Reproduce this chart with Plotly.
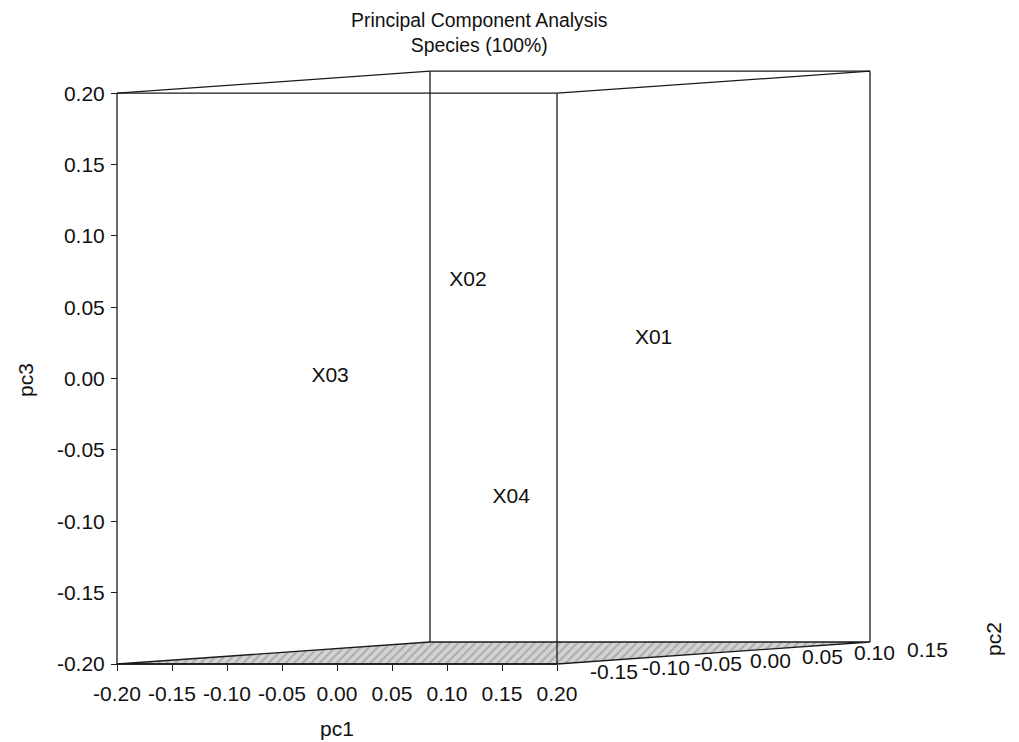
import plotly.graph_objects as go

# ---------------- data ----------------
species = ["X01", "X02", "X03", "X04"]
pc1 = [0.193, -0.118, -0.196, 0.111]
pc2 = [-0.05, 0.10, 0.05, -0.10]
pc3 = [0.023, 0.056, -0.009, -0.086]

pc1_ticks = [-0.20, -0.15, -0.10, -0.05, 0.00, 0.05, 0.10, 0.15, 0.20]
pc2_ticks = [-0.15, -0.10, -0.05, 0.00, 0.05, 0.10, 0.15]
pc3_ticks = [-0.20, -0.15, -0.10, -0.05, 0.00, 0.05, 0.10, 0.15, 0.20]

title_text = "Principal Component Analysis<br>Species (100%)"

# ---------------- box limits / projection ----------------
X_LIM = (-0.20, 0.20)   # pc1
Y_LIM = (-0.15, 0.15)   # pc2 (depth)
Z_LIM = (-0.20, 0.20)   # pc3

W_FIG, H_FIG = 1019, 742
OFF = 8                 # page body margin in the browser
PX_X = 1100.0           # px per pc1 unit on the front face
PX_Z = 1427.0           # px per pc3 unit on the front face
ORIG_PX = (117 - OFF, 664 - OFF)    # pixel of (pc1 min, pc3 min) on front face
DEPTH_DX, DEPTH_DY = 313.0, 22.0    # pixel shift for the full pc2 range

ML, MR, MT, MB = ORIG_PX[0] - 10, 140, 61 - OFF, H_FIG - (ORIG_PX[1] + 10)
PW = W_FIG - ML - MR
PH = H_FIG - MT - MB

x_lo = X_LIM[0] - (ORIG_PX[0] - ML) / PX_X
x_hi = x_lo + PW / PX_X
y_lo = Z_LIM[0] - ((H_FIG - MB) - ORIG_PX[1]) / PX_Z
y_hi = y_lo + PH / PX_Z


def proj(a, b, c):
    u = (b - Y_LIM[0]) / (Y_LIM[1] - Y_LIM[0])
    return a + u * DEPTH_DX / PX_X, c + u * DEPTH_DY / PX_Z


def paper(px, py):
    px -= OFF
    py -= OFF
    return (px - ML) / PW, ((H_FIG - MB) - py) / PH


FONT = "Liberation Sans, Arial, Helvetica, sans-serif"
LINE_C = "#1a1a1a"
TXT_C = "#111111"
FS = 21

fig = go.Figure()

# floor (hatched)
x0, x1 = X_LIM
y0, y1 = Y_LIM
z0, z1 = Z_LIM
floor = [proj(x0, y0, z0), proj(x1, y0, z0), proj(x1, y1, z0), proj(x0, y1, z0), proj(x0, y0, z0)]
fig.add_trace(go.Scatter(
    x=[p[0] for p in floor], y=[p[1] for p in floor],
    mode="lines", fill="toself", fillcolor="#cfcfcf",
    fillpattern=dict(shape="/", fgcolor="#7c7c7c", bgcolor="#d2d2d2", size=6, solidity=0.3),
    line=dict(color=LINE_C, width=1.3), hoverinfo="skip", showlegend=False))

# box edges
edges = [
    ((x0, y0, z0), (x1, y0, z0)),
    ((x0, y0, z0), (x0, y0, z1)),
    ((x0, y0, z1), (x1, y0, z1)),
    ((x1, y0, z0), (x1, y0, z1)),
    ((x0, y1, z0), (x0, y1, z1)),
    ((x0, y1, z1), (x1, y1, z1)),
    ((x1, y1, z0), (x1, y1, z1)),
    ((x0, y0, z1), (x0, y1, z1)),
    ((x1, y0, z1), (x1, y1, z1)),
]
ex, ey = [], []
for a, b in edges:
    pa, pb = proj(*a), proj(*b)
    ex += [pa[0], pb[0], None]
    ey += [pa[1], pb[1], None]
fig.add_trace(go.Scatter(x=ex, y=ey, mode="lines", line=dict(color=LINE_C, width=1.3),
                         hoverinfo="skip", showlegend=False))

# species labels
pts = [proj(a, b, c) for a, b, c in zip(pc1, pc2, pc3)]
fig.add_trace(go.Scatter(
    x=[p[0] for p in pts], y=[p[1] for p in pts], mode="text", text=species,
    textposition="middle center", textfont=dict(family=FONT, size=FS, color=TXT_C),
    hoverinfo="text", showlegend=False))

annotations = []
# pc2 tick labels
for t in pc2_ticks:
    px_, py_ = proj(X_LIM[1], t, Z_LIM[0])
    annotations.append(dict(x=px_, y=py_, xref="x", yref="y", text=f"{t:.2f}", showarrow=False,
                            xanchor="center", yanchor="middle",
                            xshift=57, yshift=-7, font=dict(family=FONT, size=FS, color=TXT_C)))

# titles
tx, ty = paper(479, 33)
annotations.append(dict(x=tx, y=ty, xref="paper", yref="paper", text=title_text, showarrow=False,
                        xanchor="center", yanchor="middle",
                        font=dict(family=FONT, size=19.4, color=TXT_C)))
for label, (lx, ly), ang in [("pc1", (337, 728), 0), ("pc3", (25, 380), -90), ("pc2", (993, 639), -90)]:
    ax_, ay_ = paper(lx, ly)
    annotations.append(dict(x=ax_, y=ay_, xref="paper", yref="paper", text=label, showarrow=False,
                            xanchor="center", yanchor="middle", textangle=ang,
                            font=dict(family=FONT, size=FS, color=TXT_C)))

xpos = (Z_LIM[0] - y_lo) / (y_hi - y_lo)
ypos = (X_LIM[0] - x_lo) / (x_hi - x_lo)

fig.update_layout(
    width=W_FIG, height=H_FIG,
    margin=dict(l=ML, r=MR, t=MT, b=MB, pad=0),
    paper_bgcolor="white", plot_bgcolor="white",
    font=dict(family=FONT, size=FS, color=TXT_C),
    annotations=annotations,
    xaxis=dict(range=[x_lo, x_hi], showgrid=False, zeroline=False, showline=False,
               tickmode="array", tickvals=pc1_ticks, ticktext=[f"{v:.2f}" for v in pc1_ticks],
               ticks="outside", ticklen=6, tickwidth=1.2, tickcolor=LINE_C,
               ticklabelstandoff=5,
               anchor="free", position=xpos, tickfont=dict(size=FS)),
    yaxis=dict(range=[y_lo, y_hi], showgrid=False, zeroline=False, showline=False,
               tickmode="array", tickvals=pc3_ticks, ticktext=[f"{v:.2f}" for v in pc3_ticks],
               ticks="outside", ticklen=6, tickwidth=1.2, tickcolor=LINE_C,
               ticklabelstandoff=2,
               anchor="free", position=ypos, tickfont=dict(size=FS)),
)

fig.write_html("out.html")
